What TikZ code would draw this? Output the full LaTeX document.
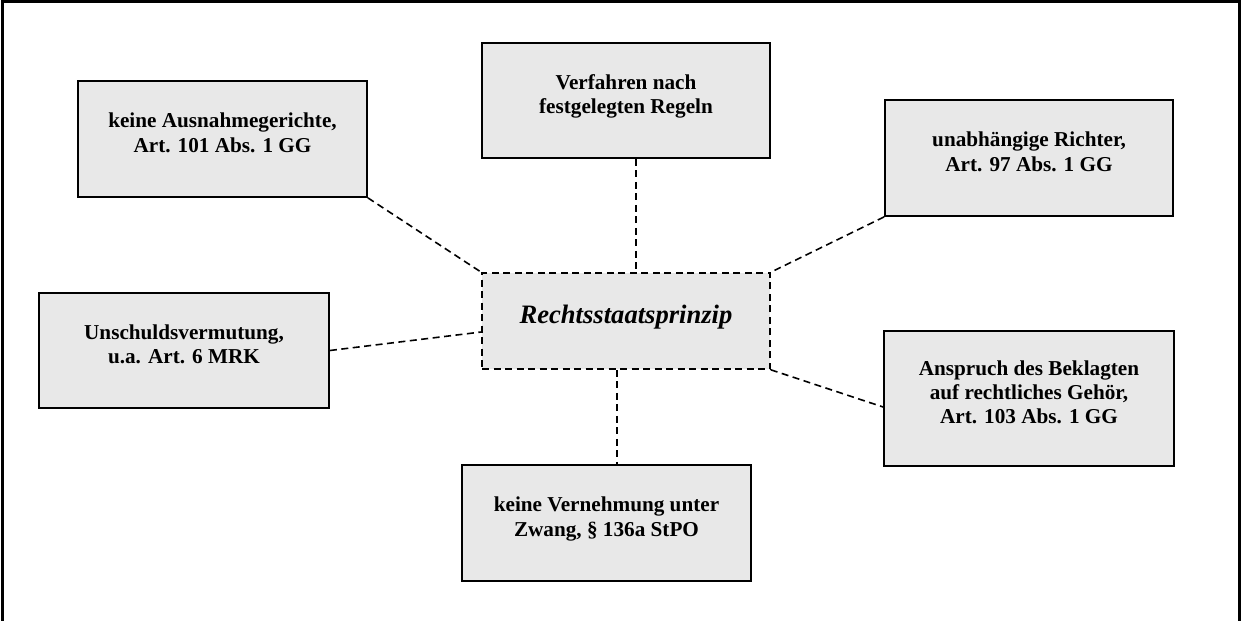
\documentclass[tikz,border=0pt]{standalone}
\usepackage{fontspec}
\setmainfont{Liberation Serif}
\begin{document}
\begin{tikzpicture}[x=1pt,y=-1pt,
  box/.style={draw=black, line width=1.8pt, fill=boxgray, inner sep=0pt,
    align=center, text height=36.2pt, text depth=10pt,
    font=\fontsize{21.2}{24.2}\selectfont\bfseries},
  threelines/.style={text height=60.4pt},
  hub/.style={draw=black, line width=1.6pt, fill=boxgray, inner sep=0pt,
    dash pattern=on 7pt off 4.5pt, text height=16pt, text depth=12pt,
    font=\fontsize{26.6}{30}\selectfont\bfseries\itshape},
  link/.style={draw=black, line width=1.6pt, dash pattern=on 7pt off 4.5pt},
  frame/.style={draw=black, line width=3pt}]
\definecolor{boxgray}{RGB}{232,232,232}
\useasboundingbox (0,0) rectangle (1243,621);

% outer frame, open at the bottom edge of the page
\draw[frame] (2.5,623) -- (2.5,1.5) -- (1239.5,1.5) -- (1239.5,623);

% central principle
\node[hub, minimum width=288pt, minimum height=96pt] (c) at (626,321) {Rechtsstaatsprinzip};

% surrounding guarantees
\node[box, minimum width=289pt, minimum height=116pt] (b1) at (222.5,139)
  {keine Ausnahmegerichte,\\Art. 101 Abs. 1 GG};
\node[box, minimum width=288pt, minimum height=115pt] (b2) at (626,100.5)
  {Verfahren nach\\festgelegten Regeln};
\node[box, minimum width=288pt, minimum height=116pt] (b3) at (1029,158)
  {unabhängige Richter,\\Art. 97 Abs. 1 GG};
\node[box, minimum width=290pt, minimum height=115pt] (b4) at (184,350.5)
  {Unschuldsvermutung,\\u.a. Art. 6 MRK};
\node[box, threelines, minimum width=290pt, minimum height=135pt] (b5) at (1029,398.5)
  {Anspruch des Beklagten\\auf rechtliches Gehör,\\Art. 103 Abs. 1 GG};
\node[box, minimum width=289pt, minimum height=116pt] (b6) at (606.5,523)
  {keine Vernehmung unter\\Zwang, § 136a StPO};

% dashed connectors
\draw[link] (b1.south east) -- (c.north west);
\draw[link] ([xshift=10pt]b2.south) -- ([xshift=10pt]c.north);
\draw[link] (b3.south west) -- (c.north east);
\draw[link] (b4.east) -- ([yshift=-11pt]c.west);
\draw[link] (c.south east) -- ([yshift=-8.5pt]b5.west);
\coordinate (cs) at ([xshift=-9pt]c.south);
\draw[link] (cs) -- (cs |- b6.north);
\end{tikzpicture}
\end{document}
